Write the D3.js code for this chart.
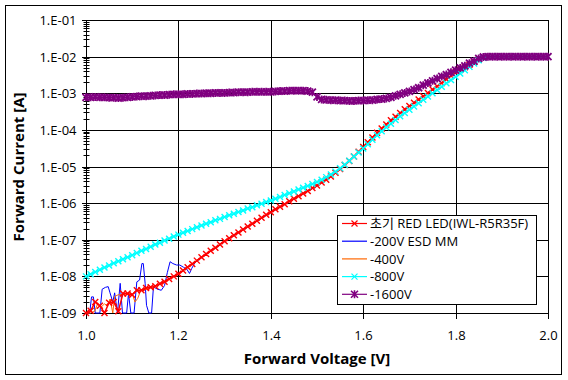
<!DOCTYPE html>
<html><head><meta charset="utf-8">
<script src="https://cdn.jsdelivr.net/npm/d3@7"></script>
<style>
body{margin:0;background:#fff;}
svg{display:block;font-family:"Open Sans","Noto Sans CJK KR",sans-serif;}
</style></head><body>
<svg id="chart" width="568" height="380"></svg>
<script>
// ---------- data (currents stored as log10 of A) ----------
const xTicks = [1.0, 1.2, 1.4, 1.6, 1.8, 2.0];
const xTickLabels = ["1.0", "1.2", "1.4", "1.6", "1.8", "2.0"];
const yTicks = [1e-9, 1e-8, 1e-7, 1e-6, 1e-5, 1e-4, 1e-3, 1e-2, 1e-1];
const yTickLabels = ["1.E-09", "1.E-08", "1.E-07", "1.E-06", "1.E-05", "1.E-04", "1.E-03", "1.E-02", "1.E-01"];
const seriesNames = ["초기 RED LED(IWL-R5R35F)", "-200V ESD MM", "-400V", "-800V", "-1600V"];
const seriesColors = ["#ff0000", "#0000ff", "#ff6600", "#00ffff", "#800080"];

// uniform sweep 1.00 V .. 2.00 V, 0.01 V step
const sweepStart = 1.0, sweepStep = 0.01;

const redLog = [
 -9.00,-8.94,-8.70,-8.80,-9.00,-8.72,-8.70,-8.95,-8.47,-8.47,
 -8.50,-8.38,-8.38,-8.32,-8.30,-8.27,-8.20,-8.15,-8.07,-8.00,
 -7.93,-7.84,-7.75,-7.66,-7.57,-7.48,-7.39,-7.30,-7.22,-7.13,
 -7.04,-6.96,-6.88,-6.80,-6.72,-6.64,-6.56,-6.48,-6.40,-6.32,
 -6.25,-6.17,-6.10,-6.03,-5.95,-5.88,-5.81,-5.74,-5.67,-5.59,
 -5.52,-5.44,-5.36,-5.27,-5.17,-5.07,-4.96,-4.85,-4.73,-4.60,
 -4.47,-4.34,-4.21,-4.08,-3.96,-3.85,-3.74,-3.64,-3.54,-3.44,
 -3.35,-3.26,-3.17,-3.08,-2.99,-2.90,-2.81,-2.72,-2.62,-2.52,
 -2.43,-2.36,-2.29,-2.22,-2.15,-2.08,-2.02,-2.00,-2.00,-2.00,
 -2.00,-2.00,-2.00,-2.00,-2.00,-2.00,-2.00,-2.00,-2.00,-2.00,
 -2.00
];
const cyanLog = [
 -8.00,-7.94,-7.88,-7.82,-7.76,-7.70,-7.64,-7.59,-7.53,-7.48,
 -7.42,-7.36,-7.30,-7.25,-7.19,-7.13,-7.08,-7.02,-6.97,-6.91,
 -6.86,-6.81,-6.76,-6.71,-6.66,-6.61,-6.56,-6.52,-6.47,-6.43,
 -6.38,-6.33,-6.29,-6.24,-6.20,-6.15,-6.11,-6.06,-6.02,-5.97,
 -5.93,-5.88,-5.83,-5.78,-5.73,-5.68,-5.63,-5.58,-5.53,-5.48,
 -5.42,-5.36,-5.29,-5.22,-5.14,-5.05,-4.95,-4.84,-4.73,-4.62,
 -4.51,-4.39,-4.27,-4.15,-4.04,-3.93,-3.83,-3.73,-3.63,-3.54,
 -3.45,-3.36,-3.27,-3.18,-3.09,-3.00,-2.91,-2.82,-2.73,-2.64,
 -2.55,-2.46,-2.37,-2.28,-2.19,-2.10,-2.03,-2.00,-2.00,-2.00,
 -2.00,-2.00,-2.00,-2.00,-2.00,-2.00,-2.00,-2.00,-2.00,-2.00,
 -2.00
];
const purpleLog = [
 -3.11,-3.11,-3.10,-3.11,-3.11,-3.12,-3.12,-3.13,-3.12,-3.11,
 -3.10,-3.09,-3.08,-3.08,-3.07,-3.06,-3.05,-3.05,-3.04,-3.03,
 -3.03,-3.03,-3.02,-3.02,-3.01,-3.01,-3.00,-3.00,-2.99,-2.99,
 -2.99,-2.98,-2.98,-2.97,-2.97,-2.97,-2.96,-2.96,-2.96,-2.96,
 -2.96,-2.95,-2.94,-2.94,-2.93,-2.93,-2.93,-2.93,-2.94,-2.97,
 -3.10,-3.17,-3.18,-3.19,-3.19,-3.20,-3.20,-3.21,-3.21,-3.20,
 -3.20,-3.19,-3.19,-3.17,-3.16,-3.14,-3.11,-3.07,-3.03,-2.99,
 -2.95,-2.90,-2.85,-2.78,-2.72,-2.66,-2.60,-2.54,-2.49,-2.43,
 -2.37,-2.31,-2.25,-2.18,-2.12,-2.05,-2.01,-2.00,-2.00,-2.00,
 -2.00,-2.00,-2.00,-2.00,-2.00,-2.00,-2.00,-2.00,-2.00,-2.00,
 -2.00
];
const blueV = [1.000,1.008,1.012,1.016,1.020,1.030,1.035,1.042,1.048,1.052,1.058,1.062,1.068,1.074,1.079,1.088,1.092,1.097,1.104,1.110,1.116,1.121,1.124,1.128,1.131,1.136,1.142,1.146,1.155,1.163,1.170,1.176,1.182,1.188,1.196,1.203,1.211,1.218,1.224,1.229,1.236,1.26,1.30,1.35,1.40,1.45,1.50,1.55,1.60,1.65,1.70,1.75,1.80,1.85,1.87,1.90,2.00];
const blueLog = [-9.00,-9.00,-8.56,-8.56,-9.00,-9.00,-8.35,-8.30,-8.28,-8.45,-8.70,-8.45,-9.00,-8.19,-9.00,-9.00,-8.47,-9.00,-9.00,-8.15,-8.10,-7.65,-7.65,-8.19,-8.79,-9.00,-9.00,-8.29,-8.35,-8.38,-8.25,-7.90,-7.60,-7.65,-7.69,-7.69,-7.75,-7.80,-7.92,-7.78,-7.62,-7.40,-7.05,-6.65,-6.26,-5.89,-5.53,-5.08,-4.48,-3.86,-3.36,-2.91,-2.44,-2.09,-2.00,-2.00,-2.00];
const orangeV = [1.000,1.010,1.019,1.025,1.032,1.040,1.046,1.052,1.058,1.062,1.070,1.077,1.085,1.092,1.100,1.106,1.112,1.118,1.124,1.15,1.20,1.25,1.30,1.35,1.40,1.45,1.50,1.55,1.60,1.65,1.70,1.75,1.80,1.85,1.87,1.90,2.00];
const orangeLog = [-9.00,-9.00,-8.95,-8.75,-8.85,-8.75,-8.80,-8.62,-9.00,-8.55,-8.50,-8.50,-8.48,-8.50,-8.47,-8.70,-8.60,-8.40,-8.38,-8.27,-7.93,-7.48,-7.04,-6.64,-6.25,-5.88,-5.52,-5.07,-4.47,-3.85,-3.35,-2.90,-2.43,-2.08,-2.00,-2.00,-2.00];

// ---------- build series ----------
const sweep = (arr) => arr.map((v, i) => ({ x: +(sweepStart + i * sweepStep).toFixed(3), y: Math.pow(10, v) }));
const pair = (xs, ls) => xs.map((x, i) => ({ x, y: Math.pow(10, ls[i]) }));
const series = [
  { name: seriesNames[1], color: seriesColors[1], data: pair(blueV, blueLog), marker: null },
  { name: seriesNames[2], color: seriesColors[2], data: pair(orangeV, orangeLog), marker: null },
  { name: seriesNames[0], color: seriesColors[0], data: sweep(redLog), marker: "x" },
  { name: seriesNames[3], color: seriesColors[3], data: sweep(cyanLog), marker: "x" },
  { name: seriesNames[4], color: seriesColors[4], data: sweep(purpleLog), marker: "star" }
];

// ---------- layout ----------
const svg = d3.select("#chart");
const L = 86, R = 548, T = 20, B = 313;
const x = d3.scaleLinear().domain([1.0, 2.0]).range([L, R]);
const y = d3.scaleLog().domain([1e-9, 1e-1]).range([B, T]);
const px = v => Math.round(v) + 0.5;

svg.append("rect").attr("x", 5.5).attr("y", 5.5).attr("width", 556).attr("height", 369)
  .attr("fill", "#fff").attr("stroke", "#000").attr("stroke-width", 1);

const grid = svg.append("g").attr("stroke", "#000").attr("stroke-width", 1).attr("shape-rendering", "crispEdges");
yTicks.forEach(t => grid.append("line").attr("x1", px(L)).attr("x2", px(R)).attr("y1", px(y(t))).attr("y2", px(y(t))));
xTicks.forEach(t => grid.append("line").attr("x1", px(x(t))).attr("x2", px(x(t))).attr("y1", px(T)).attr("y2", px(B)));

// y axis ticks (minor + major)
const yAxisG = svg.append("g").attr("transform", `translate(${px(L)},0)`);
const minorTicks = [];
yTicks.slice(0, -1).forEach(t => { for (let m = 2; m <= 9; m++) minorTicks.push(t * m); });
yAxisG.call(d3.axisLeft(y).tickValues(minorTicks).tickSize(3).tickFormat(""));
yAxisG.selectAll(".tick line").attr("x2", -3).attr("x1", 3).attr("stroke", "#000");
yAxisG.select(".domain").remove();
yAxisG.selectAll(".tick").attr("transform", d => `translate(0,${px(y(d))})`);

const yMajor = svg.append("g").attr("transform", `translate(${px(L)},0)`);
yMajor.call(d3.axisLeft(y).tickValues(yTicks).tickSize(5).tickFormat((d, i) => yTickLabels[i]));
yMajor.select(".domain").remove();
yMajor.selectAll(".tick").attr("transform", d => `translate(0,${px(y(d))})`);
yMajor.selectAll(".tick line").attr("x1", 4).attr("x2", -5).attr("stroke", "#000").attr("shape-rendering", "crispEdges");
yMajor.selectAll(".tick text").attr("x", -10).attr("dy", "0.35em")
  .attr("font-size", 13).attr("fill", "#000").attr("font-family", '"Open Sans",sans-serif');

const xAxisG = svg.append("g").attr("transform", `translate(0,${px(B)})`);
xAxisG.call(d3.axisBottom(x).tickValues(xTicks).tickSize(5).tickFormat((d, i) => xTickLabels[i]));
xAxisG.select(".domain").remove();
xAxisG.selectAll(".tick").attr("transform", d => `translate(${px(x(d))},0)`);
xAxisG.selectAll(".tick line").attr("y1", -4).attr("y2", 5).attr("stroke", "#000").attr("shape-rendering", "crispEdges");
xAxisG.selectAll(".tick text").attr("y", 17).attr("dy", "0.71em")
  .attr("font-size", 13).attr("fill", "#000").attr("font-family", '"Open Sans",sans-serif');

// frame
svg.append("rect").attr("x", px(L)).attr("y", px(T)).attr("width", px(R) - px(L)).attr("height", px(B) - px(T))
  .attr("fill", "none").attr("stroke", "#000").attr("stroke-width", 1).attr("shape-rendering", "crispEdges");

// ---------- series ----------
const markerPath = {
  x: "M-3,-3L3,3M-3,3L3,-3",
  star: "M-3.5,-3.5L3.5,3.5M-3.5,3.5L3.5,-3.5M0,-4L0,4"
};
const line = d3.line().x(d => x(d.x)).y(d => y(d.y));
series.forEach(s => {
  const g = svg.append("g");
  g.append("path").datum(s.data).attr("d", line).attr("fill", "none")
    .attr("stroke", s.color).attr("stroke-width", s.marker ? 1.5 : 1);
  if (s.marker) {
    g.selectAll("path.m").data(s.data).join("path").attr("class", "m")
      .attr("transform", d => `translate(${x(d.x)},${y(d.y)})`)
      .attr("d", markerPath[s.marker]).attr("fill", "none")
      .attr("stroke", s.color).attr("stroke-width", s.marker === "star" ? 1.8 : 1.4);
  }
});

// ---------- titles ----------
svg.append("text").attr("x", 317).attr("y", 364).attr("text-anchor", "middle")
  .attr("font-size", 15).attr("font-weight", "bold").attr("fill", "#000").text("Forward Voltage [V]");
svg.append("text").attr("transform", "translate(24,167) rotate(-90)").attr("text-anchor", "middle")
  .attr("font-size", 15).attr("font-weight", "bold").attr("fill", "#000").text("Forward Current [A]");

// ---------- legend ----------
const legendOrder = [
  { name: seriesNames[0], color: seriesColors[0], marker: "x" },
  { name: seriesNames[1], color: seriesColors[1], marker: null },
  { name: seriesNames[2], color: seriesColors[2], marker: null },
  { name: seriesNames[3], color: seriesColors[3], marker: "x" },
  { name: seriesNames[4], color: seriesColors[4], marker: "star" }
];
const lg = svg.append("g");
lg.append("rect").attr("x", 337.5).attr("y", 215.5).attr("width", 199).attr("height", 89)
  .attr("fill", "#fff").attr("stroke", "#000").attr("stroke-width", 1);
legendOrder.forEach((d, i) => {
  const yy = 223.5 + i * 17.7;
  lg.append("line").attr("x1", 342).attr("x2", 367).attr("y1", yy).attr("y2", yy)
    .attr("stroke", d.color).attr("stroke-width", 1.2);
  if (d.marker) lg.append("path").attr("transform", `translate(354.5,${yy})`).attr("d", markerPath[d.marker])
    .attr("fill", "none").attr("stroke", d.color).attr("stroke-width", d.marker === "star" ? 1.6 : 1.2);
  lg.append("text").attr("x", 370).attr("y", yy).attr("dy", "0.36em").attr("font-size", 13)
    .attr("fill", "#000").text(d.name);
});
</script>
</body></html>
